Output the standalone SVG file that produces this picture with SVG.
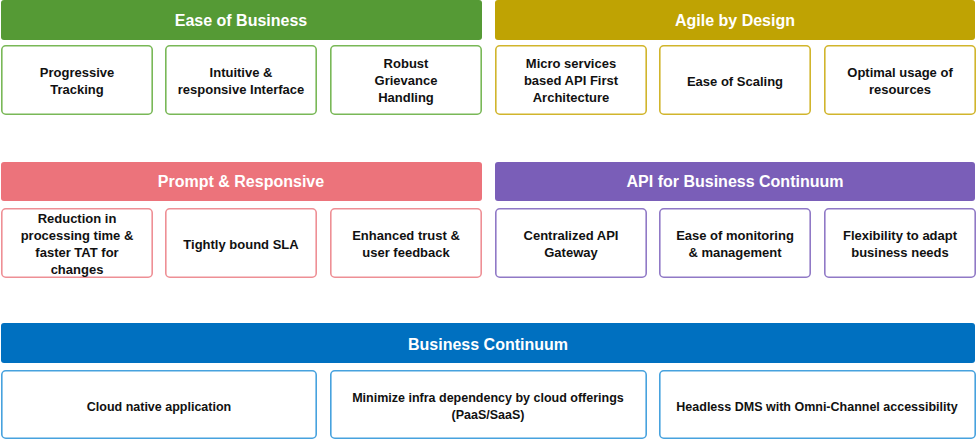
<svg xmlns="http://www.w3.org/2000/svg" width="979" height="441" viewBox="0 0 979 441">
<style>
.hd{font-family:"Liberation Sans",Arial,sans-serif;font-weight:bold;font-size:16px;fill:#fff;text-anchor:middle}
.tx{font-family:"Liberation Sans",Arial,sans-serif;font-weight:bold;font-size:13px;fill:#111;text-anchor:middle}
.tb{font-family:"Liberation Sans",Arial,sans-serif;font-weight:bold;font-size:12.5px;fill:#111;text-anchor:middle}
.box{fill:#fff;stroke-width:1.6}
.g{stroke:#79B857}.y{stroke:#D1B52C}.p{stroke:#EE8F95}.v{stroke:#9079C6}.b{stroke:#47A2DE}
</style>
<rect width="979" height="441" fill="#fff"/>
<g id="ease-of-business">
<rect x="1" y="0" width="481" height="40" rx="3" fill="#559A35"/>
<text class="hd" x="241" y="26">Ease of Business</text>
</g>
<g id="progressive-tracking"><rect class="box g" x="1.8" y="45.8" width="150.4" height="68.4" rx="4"/>
<text class="tx" x="77" y="76.5">Progressive</text><text class="tx" x="77" y="93.5">Tracking</text></g>
<g id="intuitive-interface"><rect class="box g" x="165.8" y="45.8" width="150.4" height="68.4" rx="4"/>
<text class="tx" x="241" y="76.5">Intuitive &amp;</text><text class="tx" x="241" y="93.5">responsive Interface</text></g>
<g id="robust-grievance"><rect class="box g" x="330.8" y="45.8" width="150.4" height="68.4" rx="4"/>
<text class="tx" x="406" y="68">Robust</text><text class="tx" x="406" y="85">Grievance</text><text class="tx" x="406" y="102">Handling</text></g>

<g id="agile-by-design">
<rect x="495" y="0" width="480" height="40" rx="3" fill="#BFA303"/>
<text class="hd" x="735" y="26">Agile by Design</text>
</g>
<g id="micro-services"><rect class="box y" x="495.8" y="45.8" width="150.4" height="68.4" rx="4"/>
<text class="tx" x="571" y="68">Micro services</text><text class="tx" x="571" y="85">based API First</text><text class="tx" x="571" y="102">Architecture</text></g>
<g id="ease-of-scaling"><rect class="box y" x="659.8" y="45.8" width="150.4" height="68.4" rx="4"/>
<text class="tx" x="735" y="85.5">Ease of Scaling</text></g>
<g id="optimal-usage"><rect class="box y" x="824.8" y="45.8" width="150.4" height="68.4" rx="4"/>
<text class="tx" x="900" y="76.5">Optimal usage of</text><text class="tx" x="900" y="93.5">resources</text></g>

<g id="prompt-responsive">
<rect x="1" y="162" width="481" height="39" rx="3" fill="#EC737B"/>
<text class="hd" x="241" y="187">Prompt &amp; Responsive</text>
</g>
<g id="reduction-processing"><rect class="box p" x="1.8" y="208.8" width="150.4" height="68.4" rx="4"/>
<text class="tx" x="77" y="222.5">Reduction in</text><text class="tx" x="77" y="239.5">processing time &amp;</text><text class="tx" x="77" y="256.5">faster TAT for</text><text class="tx" x="77" y="273.5">changes</text></g>
<g id="tightly-bound-sla"><rect class="box p" x="165.8" y="208.8" width="150.4" height="68.4" rx="4"/>
<text class="tx" x="241" y="248.5">Tightly bound SLA</text></g>
<g id="enhanced-trust"><rect class="box p" x="330.8" y="208.8" width="150.4" height="68.4" rx="4"/>
<text class="tx" x="406" y="239.5">Enhanced trust &amp;</text><text class="tx" x="406" y="256.5">user feedback</text></g>

<g id="api-business-continuum">
<rect x="495" y="162" width="480" height="39" rx="3" fill="#7A5EB8"/>
<text class="hd" x="735" y="187">API for Business Continuum</text>
</g>
<g id="centralized-api"><rect class="box v" x="495.8" y="208.8" width="150.4" height="68.4" rx="4"/>
<text class="tx" x="571" y="239.5">Centralized API</text><text class="tx" x="571" y="256.5">Gateway</text></g>
<g id="ease-monitoring"><rect class="box v" x="659.8" y="208.8" width="150.4" height="68.4" rx="4"/>
<text class="tx" x="735" y="239.5">Ease of monitoring</text><text class="tx" x="735" y="256.5">&amp; management</text></g>
<g id="flexibility"><rect class="box v" x="824.8" y="208.8" width="150.4" height="68.4" rx="4"/>
<text class="tx" x="900" y="239.5">Flexibility  to adapt</text><text class="tx" x="900" y="256.5">business  needs</text></g>

<g id="business-continuum">
<rect x="1" y="323" width="974" height="40" rx="3" fill="#0070C0"/>
<text class="hd" x="488" y="350">Business Continuum</text>
</g>
<g id="cloud-native"><rect class="box b" x="1.8" y="370.8" width="314.4" height="67.4" rx="4"/>
<text class="tb" x="159" y="410.5">Cloud native application</text></g>
<g id="minimize-infra"><rect class="box b" x="330.8" y="370.8" width="315.4" height="67.4" rx="4"/>
<text class="tb" x="488" y="401.5">Minimize infra dependency by cloud offerings</text><text class="tb" x="488" y="418.5">(PaaS/SaaS)</text></g>
<g id="headless-dms"><rect class="box b" x="659.8" y="370.8" width="315.4" height="67.4" rx="4"/>
<text class="tb" x="817" y="410.5">Headless DMS with Omni-Channel accessibility</text></g>
<g id="connectors"/>
</svg>
